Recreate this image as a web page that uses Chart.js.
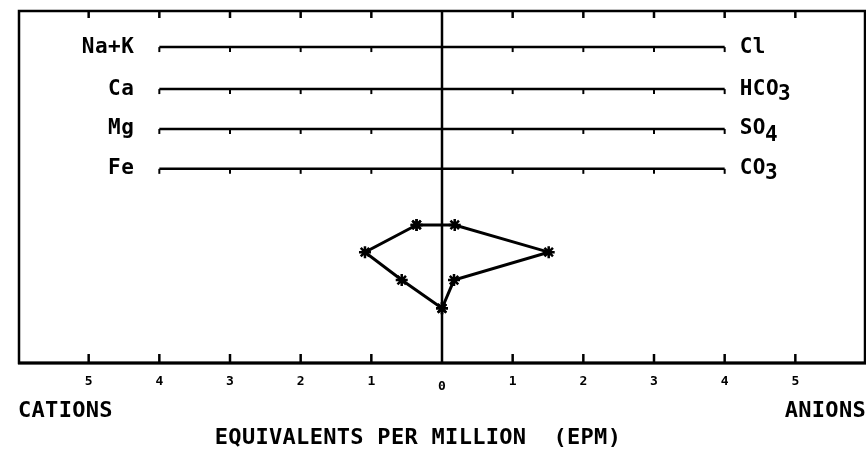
<!DOCTYPE html>
<html>
<head>
<meta charset="utf-8">
<script src="https://cdn.jsdelivr.net/npm/chart.js@4"></script>
<style>
  html, body { margin: 0; padding: 0; background: #fff; }
</style>
</head>
<body>
<canvas id="stiffChart" width="866" height="449"></canvas>
<script>
// ion names, top row first
const cations = ['Na+K', 'Ca', 'Mg', 'Fe'];
const anions = ['Cl', 'HCO3', 'SO4', 'CO3'];
// concentrations in epm
const cationEpm = [0.36, 1.09, 0.57, 0.0];
const anionEpm = [0.18, 1.51, 0.17, 0.0];
// vertical levels (0-100) of the labelled guide lines and of the diagram rows
const guideRows = [89.5, 77.6, 66.3, 55.0];
const diagramRows = [39.1, 31.4, 23.5, 15.5];
const tickValues = [-5, -4, -3, -2, -1, 0, 1, 2, 3, 4, 5];
const tickLabels = ['5', '4', '3', '2', '1', '0', '1', '2', '3', '4', '5'];
const guideExtent = 4;

const FONT = '"DejaVu Sans Mono", "Liberation Mono", monospace';

function stiffPoints() {
  const pts = cations.map((c, i) => ({ x: -cationEpm[i], y: diagramRows[i] }));
  for (let i = anions.length - 1; i >= 0; i--) {
    pts.push({ x: anionEpm[i], y: diagramRows[i] });
  }
  pts.push(pts[0]);
  return pts;
}

const guideSets = guideRows.map(row => ({
  data: [{ x: -guideExtent, y: row }, { x: guideExtent, y: row }],
  borderColor: '#000',
  borderWidth: 2.5,
  pointRadius: 0
}));

function line(ctx, x1, y1, x2, y2) {
  ctx.beginPath();
  ctx.moveTo(x1, y1);
  ctx.lineTo(x2, y2);
  ctx.stroke();
}

// frame, ticks and all the text of the diagram
const stiffFrame = {
  id: 'stiffFrame',
  afterDraw(chart) {
    const ctx = chart.ctx;
    const a = chart.chartArea;
    const xs = chart.scales.x;
    const ys = chart.scales.y;
    ctx.save();
    ctx.strokeStyle = '#000';
    ctx.fillStyle = '#000';

    ctx.lineWidth = 2.5;
    ctx.strokeRect(a.left + 1, a.top + 1, a.right - a.left - 2, a.bottom - a.top - 1);
    ctx.lineWidth = 3;
    line(ctx, a.left, a.bottom, a.right, a.bottom);

    const x0 = xs.getPixelForValue(0);
    ctx.lineWidth = 2.5;
    line(ctx, x0, a.top, x0, a.bottom);

    ctx.lineWidth = 2.5;
    tickValues.forEach(v => {
      if (v === 0) return;
      const px = xs.getPixelForValue(v);
      line(ctx, px, a.top, px, a.top + 8);
      line(ctx, px, a.bottom, px, a.bottom - 9);
    });

    // small hooks under the guide lines
    ctx.lineWidth = 2;
    guideRows.forEach(row => {
      const py = ys.getPixelForValue(row);
      for (let v = -guideExtent; v <= guideExtent; v++) {
        if (v === 0) continue;
        const px = xs.getPixelForValue(v);
        line(ctx, px, py, px, py + 5);
      }
    });

    // tick numbers
    ctx.font = 'bold 13px ' + FONT;
    ctx.textAlign = 'center';
    ctx.textBaseline = 'middle';
    tickValues.forEach((v, i) => {
      const px = xs.getPixelForValue(v);
      ctx.fillText(tickLabels[i], px, a.bottom + (v === 0 ? 24 : 19));
    });

    // ion names
    ctx.font = 'bold 21px ' + FONT;
    ctx.letterSpacing = '0.5px';
    const leftEnd = xs.getPixelForValue(-guideExtent);
    const rightEnd = xs.getPixelForValue(guideExtent);
    cations.forEach((name, i) => {
      ctx.textAlign = 'right';
      ctx.fillText(name, leftEnd - 25, ys.getPixelForValue(guideRows[i]));
    });
    anions.forEach((name, i) => {
      const py = ys.getPixelForValue(guideRows[i]);
      const m = name.match(/^(.*?)(\d*)$/);
      ctx.textAlign = 'left';
      ctx.fillText(m[1], rightEnd + 15, py);
      if (m[2]) {
        const w = ctx.measureText(m[1]).width;
        ctx.fillText(m[2], rightEnd + 15 + w - 1, py + (m[2] === '4' ? 7 : 5));
      }
    });

    ctx.font = 'bold 22px ' + FONT;
    ctx.letterSpacing = '0.3px';
    ctx.textAlign = 'left';
    ctx.fillText('CATIONS', a.left, a.bottom + 48);
    ctx.textAlign = 'right';
    ctx.fillText('ANIONS', a.right, a.bottom + 48);
    ctx.textAlign = 'center';
    ctx.fillText('EQUIVALENTS PER MILLION  (EPM)', (a.left + a.right) / 2 - 24, a.bottom + 75);
    ctx.restore();
  }
};

new Chart(document.getElementById('stiffChart'), {
  type: 'line',
  data: {
    datasets: guideSets.concat([{
      data: stiffPoints(),
      borderColor: '#000',
      borderWidth: 3,
      tension: 0,
      pointStyle: 'star',
      pointRadius: 6,
      pointBorderWidth: 2.5,
      pointBorderColor: '#000',
      pointBackgroundColor: '#000'
    }])
  },
  options: {
    responsive: false,
    animation: false,
    layout: { autoPadding: false, padding: { left: 18, right: 0, top: 10, bottom: 86 } },
    plugins: { legend: { display: false }, tooltip: { enabled: false } },
    scales: {
      x: { type: 'linear', min: -6, max: 6, display: false },
      y: { type: 'linear', min: 0, max: 100, display: false }
    }
  },
  plugins: [stiffFrame]
});
</script>
</body>
</html>
